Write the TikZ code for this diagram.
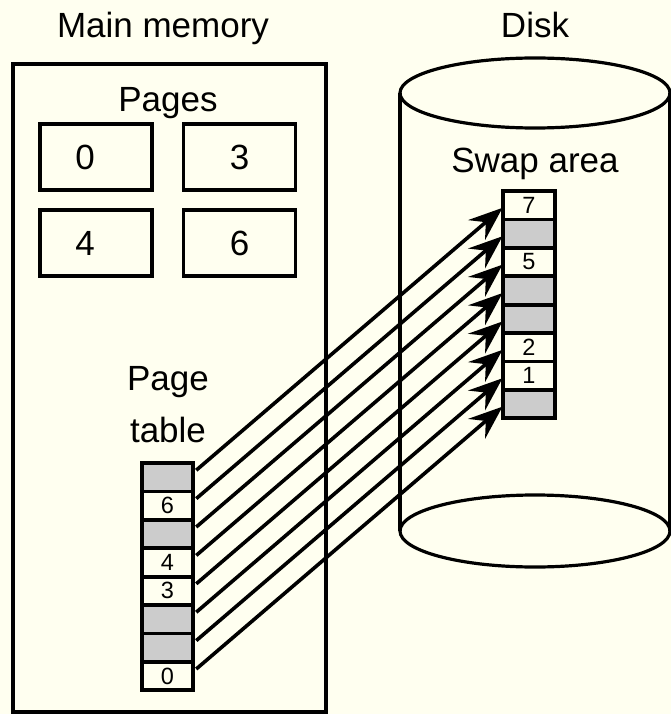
\documentclass[tikz,border=0pt]{standalone}
\usepackage{fontspec}
\setmainfont{Liberation Sans}
\usetikzlibrary{positioning,arrows.meta}
\definecolor{sfondo}{RGB}{255,255,240}
\definecolor{grigio}{RGB}{204,204,204}

\begin{document}
\begin{tikzpicture}[x=1pt, y=-1pt, line width=3.8pt, font=\fontsize{35}{40}\selectfont,
    cella/.style = {draw, outer sep=0pt, inner sep=0pt, minimum width=51.5pt, minimum height=28.4pt, font=\fontsize{23.5}{23.5}\selectfont},
    vuota/.style = {fill=grigio},
    piena/.style = {},
    pagina/.style = {draw, minimum width=112pt, minimum height=66pt},
    titolo/.style = {anchor=base},
    freccia/.style = {-{Stealth[length=34pt,width=26pt,inset=12pt]}, line width=3.6pt, shorten >=1pt}]
    % Sfondo e dimensioni della figura
    \fill[sfondo] (0,0) rectangle (671,714);
    \useasboundingbox (0,0) rectangle (671,714);

    % Memoria principale
    \draw (13,64) rectangle (326,712);
    \node[titolo] (mm) at (163,38) {Main memory};
    \node[titolo] (pages) at (168,112) {Pages};
    \node[pagina, label={[xshift=-11pt]center:0}] (p0) at (96,157) {};
    \node[pagina] (p3) at (239.5,157) {3};
    \node[pagina, label={[xshift=-11pt]center:4}] (p4) at (96,243) {};
    \node[pagina] (p6) at (239.5,243) {6};

    % Tabella delle pagine
    \node[titolo] (pt1lbl) at (168,390) {Page};
    \node[titolo] (pt2lbl) at (168,442) {table};
    \node[cella, vuota] (pt0) at (167.5,477.2) {};
    \foreach \txt/\tipo [count=\i] in {6/piena, /vuota, 4/piena, 3/piena, /vuota, /vuota, 0/piena} {
        \pgfmathtruncatemacro\prev{\i-1}
        \node[cella, \tipo, below=0pt of pt\prev] (pt\i) {\txt};
    }

    % Disco con l'area di swap
    \begin{scope}[line width=3.2pt]
        \draw (535,93) ellipse [x radius=135pt, y radius=35pt];
        \draw (400,93) -- (400,531);
        \draw (670,93) -- (670,531);
        \draw (535,531) ellipse [x radius=135pt, y radius=36pt];
    \end{scope}
    \node[titolo] (disk) at (535,38) {Disk};
    \node[titolo] (swap) at (535,172) {Swap area};
    \node[cella, piena] (sw0) at (529,205.2) {7};
    \foreach \txt/\tipo [count=\i] in {/vuota, 5/piena, /vuota, /vuota, 2/piena, 1/piena, /vuota} {
        \pgfmathtruncatemacro\prev{\i-1}
        \node[cella, \tipo, below=0pt of sw\prev] (sw\i) {\txt};
    }

    % Frecce dalla tabella all'area di swap
    \foreach \i in {0,...,7}
        \draw[freccia] ([xshift=3pt,yshift=7pt]pt\i.east) -- ([yshift=-2pt]sw\i.west);

\end{tikzpicture}
\end{document}
